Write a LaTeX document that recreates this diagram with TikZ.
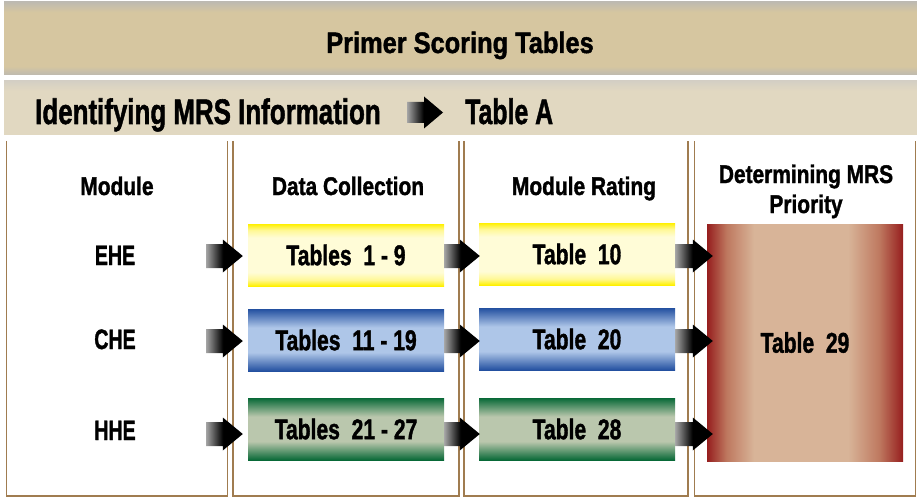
\documentclass[tikz,border=0pt]{standalone}
\usepackage{fontspec}
\setmainfont{Liberation Sans}
\newfontfamily\hvy{Liberation Sans Bold}[FakeBold=1.6]
\usepackage{graphicx}
\usetikzlibrary{calc}

\definecolor{tgray}{RGB}{190,186,176}
\definecolor{ttan}{RGB}{214,198,160}
\definecolor{lgray}{RGB}{212,207,196}
\definecolor{ltan}{RGB}{225,216,193}
\definecolor{colb}{RGB}{160,124,80}
\definecolor{ydark}{RGB}{255,240,0}
\definecolor{ymid}{RGB}{255,248,150}
\definecolor{ylight}{RGB}{255,252,215}
\definecolor{bdark}{RGB}{35,80,160}
\definecolor{blight}{RGB}{174,198,232}
\definecolor{gdark}{RGB}{8,105,55}
\definecolor{glight}{RGB}{186,199,173}
\definecolor{rdark}{RGB}{150,30,30}
\definecolor{rmid}{RGB}{190,120,95}
\definecolor{rlight}{RGB}{216,180,152}
\definecolor{agray}{RGB}{165,165,165}

\pgfdeclareverticalshading{bandoneshade}{100bp}{color(0bp)=(tgray); color(25bp)=(tgray); color(31bp)=(ttan); color(68bp)=(ttan); color(75bp)=(tgray); color(100bp)=(tgray)}
\pgfdeclareverticalshading{bandtwoshade}{100bp}{color(0bp)=(ltan); color(25bp)=(ltan); color(66bp)=(ltan); color(75bp)=(lgray); color(100bp)=(lgray)}
\pgfdeclareverticalshading{yelshade}{100bp}{color(0bp)=(ydark); color(25bp)=(ydark); color(30bp)=(ymid); color(36bp)=(ylight); color(64bp)=(ylight); color(70bp)=(ymid); color(75bp)=(ydark); color(100bp)=(ydark)}
\pgfdeclareverticalshading{blueshade}{100bp}{color(0bp)=(bdark); color(25bp)=(bdark); color(40bp)=(blight); color(60bp)=(blight); color(75bp)=(bdark); color(100bp)=(bdark)}
\pgfdeclareverticalshading{greenshade}{100bp}{color(0bp)=(gdark); color(25bp)=(gdark); color(40bp)=(glight); color(60bp)=(glight); color(75bp)=(gdark); color(100bp)=(gdark)}
\pgfdeclarehorizontalshading{redshade}{100bp}{color(0bp)=(rdark); color(25bp)=(rdark); color(30bp)=(rmid); color(37bp)=(rlight); color(61bp)=(rlight); color(69bp)=(rmid); color(75bp)=(rdark); color(100bp)=(rdark)}
\pgfdeclarehorizontalshading{arrowshade}{100bp}{color(0bp)=(agray); color(25bp)=(agray); color(48bp)=(black); color(100bp)=(black)}

\newcommand\tx[3]{\scalebox{#1}[1]{\fontsize{#2}{#2}\selectfont\hvy #3}}
% block arrow: #1 start, #2 tip, #3 shaft half width, #4 head half width, #5 head length
\newcommand\barrow[5]{\shade[shading=arrowshade] let \p1=(#1), \p2=(#2) in
  (\x1,\y2+#3) -- (\x2-#5,\y2+#3) -- (\x2-#5,\y2+#4) -- (\x2,\y2) --
  (\x2-#5,\y2-#4) -- (\x2-#5,\y2-#3) -- (\x1,\y2-#3) -- cycle;}

\begin{document}
\begin{tikzpicture}[x=1pt,y=-1pt,
  lbl/.style={inner sep=0pt, anchor=base},
  tbox/.style={shade, minimum width=196pt, minimum height=62pt, inner sep=0pt},
  colframe/.style={draw=colb, line width=1.6pt}]
\useasboundingbox (0,0) rectangle (917,497);

% bands
\shade[shading=bandoneshade] (4,2) rectangle (917,75);
\shade[shading=bandtwoshade] (4,81) rectangle (917,135);
\node[lbl] (title) at (460,53) {\tx{0.86}{29.5}{Primer Scoring Tables}};
\node[lbl, anchor=base west] (ident) at (35,124) {\tx{0.73}{35.5}{Identifying MRS Information}};
\node[lbl, anchor=base west] (tabA) at (465,124) {\tx{0.70}{35.5}{Table A}};
\coordinate (aAs) at (407,112.5);
\coordinate (aAe) at (443,112.5);
\barrow{aAs}{aAe}{10.5pt}{16pt}{19pt}

% column frames
\draw[colframe] (6.5,141) |- (227.5,496) -- (227.5,141);
\draw[colframe] (233,141) |- (459,496) -- (459,141);
\draw[colframe] (464,141) |- (688,496) -- (688,141);
\draw[colframe] (694.5,141) |- (915.5,496) -- (915.5,141);

% headers
\node[lbl] (h1) at (117,195) {\tx{0.82}{25.5}{Module}};
\node[lbl] (h2) at (348,195) {\tx{0.82}{25.5}{Data Collection}};
\node[lbl] (h3) at (584,195) {\tx{0.82}{25.5}{Module Rating}};
\node[lbl] (h4a) at (806,183) {\tx{0.82}{25.5}{Determining MRS}};
\node[lbl] (h4b) at (806,213) {\tx{0.82}{25.5}{Priority}};

% row labels
\node[lbl] (ehe) at (115,265) {\tx{0.70}{28}{EHE}};
\node[lbl] (che) at (115,349) {\tx{0.70}{28}{CHE}};
\node[lbl] (hhe) at (115,440) {\tx{0.70}{28}{HHE}};

% boxes
\node[tbox, shading=yelshade] (dc1) at (346,255) {\tx{0.74}{28.5}{Tables~~1 - 9}};
\node[tbox, shading=blueshade] (dc2) at (346,340) {\tx{0.74}{28.5}{Tables~~11 - 19}};
\node[tbox, shading=greenshade] (dc3) at (346,429) {\tx{0.74}{28.5}{Tables~~21 - 27}};
\node[tbox, shading=yelshade] (mr1) at (577,254) {\tx{0.74}{28.5}{Table~~10}};
\node[tbox, shading=blueshade] (mr2) at (577,339) {\tx{0.74}{28.5}{Table~~20}};
\node[tbox, shading=greenshade] (mr3) at (577,429) {\tx{0.74}{28.5}{Table~~28}};
\node[tbox, shading=redshade, minimum height=237pt] (pr) at (805,342.5) {\tx{0.74}{28.5}{Table~~29}};

% arrows
\coordinate (s1) at (206,256);
\coordinate (s2) at (206,341);
\coordinate (s3) at (206,434);
\barrow{s1}{$(dc1.west)+(-5,1)$}{12pt}{16.5pt}{20pt}
\barrow{s2}{$(dc2.west)+(-5,1)$}{12pt}{16.5pt}{20pt}
\barrow{s3}{$(dc3.west)+(-5,5)$}{12pt}{16.5pt}{20pt}
\barrow{dc1.east}{$(mr1.west)+(1,2)$}{12pt}{16.5pt}{20pt}
\barrow{dc2.east}{$(mr2.west)+(1,2)$}{12pt}{16.5pt}{20pt}
\barrow{dc3.east}{$(mr3.west)+(1,5)$}{12pt}{16.5pt}{20pt}
\barrow{mr1.east}{$(mr1.east -| pr.west)+(6,2)$}{12pt}{16.5pt}{20pt}
\barrow{mr2.east}{$(mr2.east -| pr.west)+(6,2)$}{12pt}{16.5pt}{20pt}
\barrow{mr3.east}{$(mr3.east -| pr.west)+(6,5)$}{12pt}{16.5pt}{20pt}
\end{tikzpicture}
\end{document}
